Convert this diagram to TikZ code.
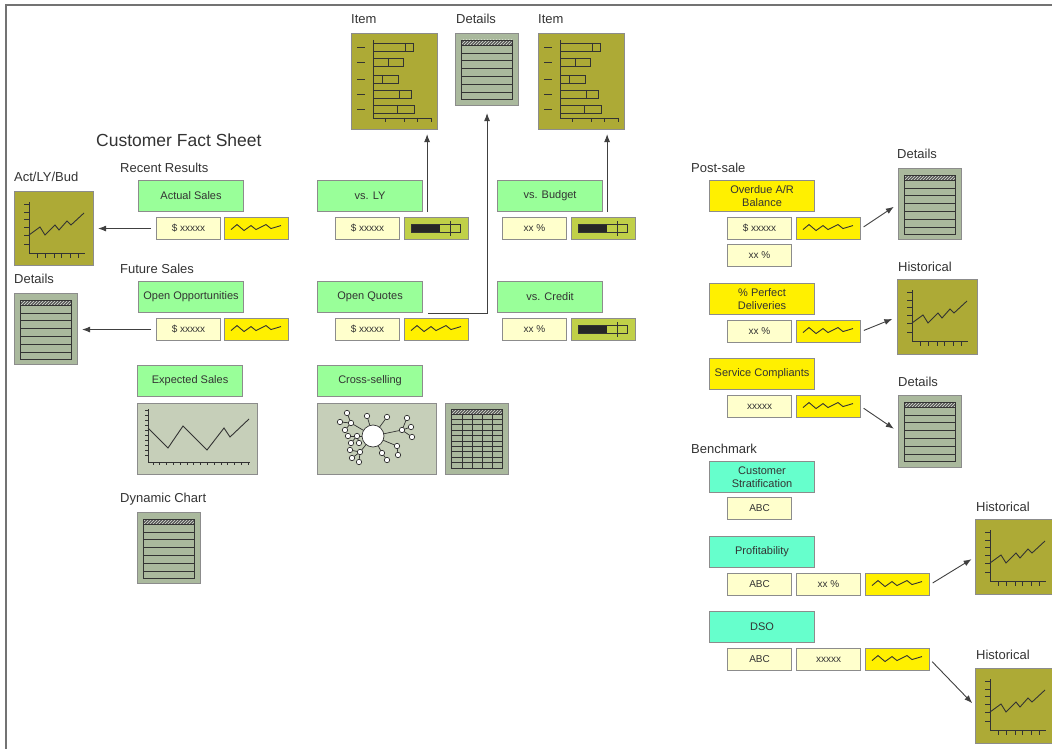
\documentclass[tikz,border=0pt]{standalone}
\usepackage{fontspec}
\setmainfont{Liberation Sans}
\usepackage{tikz}
\usetikzlibrary{arrows.meta, patterns, positioning}

\definecolor{kpigreen}{HTML}{99FF99}
\definecolor{benchteal}{HTML}{66FFCC}
\definecolor{alertyellow}{HTML}{FFF000}
\definecolor{valyellow}{HTML}{FFFFCC}
\definecolor{bulletgreen}{HTML}{C0D048}
\definecolor{olivechart}{HTML}{ADAA36}
\definecolor{detgray}{HTML}{AAB99D}
\definecolor{panelgray}{HTML}{C6CFB9}

% little pictures drawn inside the empty boxes
\newcommand{\detailspic}[1]{%
  \begin{scope}[shift={(#1.north west)}, icon]
    \fill[black!65] (6,7) rectangle (57,12);
    \fill[pattern=north east lines, pattern color=detgray!40!white] (6,7) rectangle (57,12);
    \draw (6,7) rectangle (57,66);
    \foreach \r in {12,20,27,35,43,51,59} \draw (6,\r) -- (57,\r);
  \end{scope}}
\newcommand{\itempic}[1]{%
  \begin{scope}[shift={(#1.north west)}, icon]
    \draw (22,7) -- (22,85) -- (80,85);
    \foreach \t in {34,53,66,80} \draw (\t,85) -- (\t,89);
    \foreach \e/\d/\r in {62/54/14, 52/37/29, 47/31/46, 60/48/61, 63/46/76} {
      \draw (6,\r) -- (14,\r);
      \draw (22,\r-4) rectangle (\e,\r+4);
      \draw (\d,\r-4) -- (\d,\r+4);
    }
  \end{scope}}
\newcommand{\trendpic}[1]{%
  \begin{scope}[shift={(#1.north west)}, icon]
    \draw (15,11) -- (15,62) -- (71,62);
    \foreach \t in {13,21,28,36,44,53} \draw (10,\t) -- (15,\t);
    \foreach \t in {23,31,40,47,56,64} \draw (\t,62) -- (\t,67);
    \draw (15,44) -- (26,36) -- (31,44) -- (41,34) -- (45,39) -- (53,30) -- (57,34) -- (70,22);
  \end{scope}}
\newcommand{\sparkpic}[1]{%
  \draw[icon, shift={(#1.west)}] (7,1) -- (13,-4) -- (20,2) -- (27,-3) -- (32,1) -- (42,-4) -- (47,0) -- (57,-3);}
\newcommand{\bulletpic}[1]{%
  \begin{scope}[shift={(#1.west)}, icon]
    \fill[black!85] (7,-4) rectangle (36,4);
    \draw (7,-4) rectangle (56,4);
    \draw (46,-7.5) -- (46,7.5);
  \end{scope}}

\begin{document}
\begin{tikzpicture}[x=1pt, y=-1pt,
    panel/.style={draw=black!45, line width=1.1pt, inner sep=0, anchor=north west},
    kpi/.style={panel, fill=kpigreen, minimum width=105, minimum height=31, align=center,
      text=black!80, font=\fontsize{11}{13}\selectfont},
    postkpi/.style={kpi, fill=alertyellow},
    benchkpi/.style={kpi, fill=benchteal},
    valbox/.style={panel, fill=valyellow, minimum width=64, minimum height=22,
      text=black!80, font=\fontsize{10}{12}\selectfont},
    sparkbox/.style={panel, fill=alertyellow, minimum width=64, minimum height=22},
    bulletbox/.style={panel, fill=bulletgreen, minimum width=64, minimum height=22},
    trend/.style={panel, fill=olivechart, minimum width=80, minimum height=75},
    itemchart/.style={panel, fill=olivechart, minimum width=86, minimum height=96},
    detailbox/.style={panel, fill=detgray, minimum width=63, minimum height=71},
    widebox/.style={panel, fill=panelgray, minimum width=120, minimum height=71},
    sect/.style={inner sep=0, anchor=base west, text=black!80, font=\fontsize{13}{15}\selectfont},
    icon/.style={draw=black!80, line width=0.9pt},
    flow/.style={draw=black!75, line width=0.9pt, -{Latex[length=8pt,width=6pt]}}]
  \clip (0,0) rectangle (1052,749);
  \draw[black!55, line width=1.5pt] (1052,5) -- (6,5) -- (6,749);

  % headings
  \node[sect, font=\fontsize{17.5}{20}\selectfont] (title) at (96,146.5) {Customer Fact Sheet};
  \node[sect] (recent) at (120,172) {Recent Results};
  \node[sect] (future) at (120,273) {Future Sales};
  \node[sect] (dynamic) at (120,502) {Dynamic Chart};
  \node[sect] (actlbl) at (14,181) {Act/LY/Bud};
  \node[sect] (ldetlbl) at (14,283) {Details};
  \node[sect] (item1lbl) at (351,24) {Item};
  \node[sect] (tdetlbl) at (456,24) {Details};
  \node[sect] (item2lbl) at (538,24) {Item};
  \node[sect] (postsale) at (691,172) {Post-sale};
  \node[sect] (bench) at (691,453) {Benchmark};
  \node[sect] (rdet1lbl) at (897,158) {Details};
  \node[sect] (hist1lbl) at (898,271) {Historical};
  \node[sect] (rdet2lbl) at (898,386) {Details};
  \node[sect] (hist2lbl) at (976,511) {Historical};
  \node[sect] (hist3lbl) at (976,659) {Historical};

  % left column
  \node[kpi] (actual) at (138,180) {Actual Sales};
  \node[valbox] (actval) at (156,217) {\$ xxxxx};
  \node[sparkbox] (actspark) at (224,217) {}; \sparkpic{actspark}
  \node[kpi] (openopp) at (138,281) {Open Opportunities};
  \node[valbox] (oppval) at (156,318) {\$ xxxxx};
  \node[sparkbox] (oppspark) at (224,318) {}; \sparkpic{oppspark}
  \node[kpi] (expected) at (137,365) {Expected Sales};
  \node[widebox] (expchart) at (137,403) {};
  \begin{scope}[shift={(expchart.north west)}, icon]
    \draw (11,6) -- (11,59) -- (113,59);
    \foreach \t in {7,12,...,52} \draw (8,\t) -- (11,\t);
    \foreach \t in {16,22.8,...,112} \draw (\t,59) -- (\t,62);
    \draw (11,25) -- (31,45) -- (46,23) -- (70,47) -- (87,25) -- (93,34) -- (112,16);
  \end{scope}
  \node[trend, minimum width=79, minimum height=74] (actchart) at (14,191) {}; \trendpic{actchart}
  \node[detailbox] (ldet) at (14,293) {}; \detailspic{ldet}
  \node[detailbox] (dyndet) at (137,512) {}; \detailspic{dyndet}

  % middle columns
  \node[kpi] (vsly) at (317,180) {vs. LY};
  \node[valbox] (lyval) at (335,217) {\$ xxxxx};
  \node[bulletbox] (lybullet) at (404,217) {}; \bulletpic{lybullet}
  \node[kpi] (quotes) at (317,281) {Open Quotes};
  \node[valbox] (quoteval) at (335,318) {\$ xxxxx};
  \node[sparkbox] (quotespark) at (404,318) {}; \sparkpic{quotespark}
  \node[kpi] (cross) at (317,365) {Cross-selling};
  \node[widebox, minimum width=119] (netpanel) at (317,403) {};
  \begin{scope}[shift={(netpanel.north west)}, shift={(56,33)}, icon, line width=0.7pt]
    \foreach \hx/\hy in {-6/-20, 14/-19, 29/-6, 24/10, 9/17, -22/-13, -16/0, -13/16}
      \draw (0,0) -- (\hx,\hy);
    \foreach \ax/\ay/\bx/\by in {29/-6/34/-18, 29/-6/38/-9, 29/-6/39/1, 24/10/25/19, 9/17/14/24,
        -22/-13/-26/-23, -22/-13/-33/-14, -22/-13/-28/-6, -16/0/-25/0, -16/0/-22/7, -16/0/-14/7,
        -13/16/-23/14, -13/16/-21/22, -13/16/-14/26}
      \draw (\ax,\ay) -- (\bx,\by);
    \foreach \px/\py in {-6/-20, 14/-19, 29/-6, 24/10, 9/17, -22/-13, -16/0, -13/16, 34/-18, 38/-9,
        39/1, 25/19, 14/24, -26/-23, -33/-14, -28/-6, -25/0, -22/7, -14/7, -23/14, -21/22, -14/26}
      \filldraw[fill=white] (\px,\py) circle (2.7);
    \filldraw[fill=white] (0,0) circle (11);
  \end{scope}
  \node[detailbox] (crosstab) at (445,403) {};
  \begin{scope}[shift={(crosstab.north west)}, icon]
    \fill[black!65] (6,6) rectangle (57,11);
    \fill[pattern=north east lines, pattern color=detgray!40!white] (6,6) rectangle (57,11);
    \draw (6,6) rectangle (57,65);
    \foreach \c in {17,27,37,47} \draw (\c,11) -- (\c,65);
    \foreach \r in {11,16.4,...,60} \draw (6,\r) -- (57,\r);
  \end{scope}
  \node[kpi] (vsbud) at (497,180) {vs. Budget};
  \node[valbox] (budval) at (502,217) {xx \%};
  \node[bulletbox] (budbullet) at (571,217) {}; \bulletpic{budbullet}
  \node[kpi] (vscredit) at (497,281) {vs. Credit};
  \node[valbox] (credval) at (502,318) {xx \%};
  \node[bulletbox] (credbullet) at (571,318) {}; \bulletpic{credbullet}
  \node[itemchart] (item1) at (351,33) {}; \itempic{item1}
  \node[detailbox, minimum height=72] (topdet) at (455,33) {}; \detailspic{topdet}
  \node[itemchart] (item2) at (538,33) {}; \itempic{item2}

  % right column
  \node[postkpi] (overdue) at (709,180) {Overdue A/R\\Balance};
  \node[valbox] (odval) at (727,217) {\$ xxxxx};
  \node[sparkbox] (odspark) at (796,217) {}; \sparkpic{odspark}
  \node[valbox] (odpct) at (727,244) {xx \%};
  \node[detailbox] (rdet1) at (898,168) {}; \detailspic{rdet1}
  \node[postkpi] (perfect) at (709,283) {\% Perfect\\Deliveries};
  \node[valbox] (pfval) at (727,320) {xx \%};
  \node[sparkbox] (pfspark) at (796,320) {}; \sparkpic{pfspark}
  \node[trend] (hist1) at (897,279) {}; \trendpic{hist1}
  \node[postkpi] (service) at (709,358) {Service Compliants};
  \node[valbox] (svval) at (727,395) {xxxxx};
  \node[sparkbox] (svspark) at (796,395) {}; \sparkpic{svspark}
  \node[detailbox, minimum height=72] (rdet2) at (898,395) {}; \detailspic{rdet2}
  \node[benchkpi] (strat) at (709,461) {Customer\\Stratification};
  \node[valbox] (stabc) at (727,497) {ABC};
  \node[benchkpi] (profit) at (709,536) {Profitability};
  \node[valbox] (prabc) at (727,573) {ABC};
  \node[valbox] (prpct) at (796,573) {xx \%};
  \node[sparkbox] (prspark) at (865,573) {}; \sparkpic{prspark}
  \node[trend] (hist2) at (975,519) {}; \trendpic{hist2}
  \node[benchkpi] (dso) at (709,611) {DSO};
  \node[valbox] (dsoabc) at (727,648) {ABC};
  \node[valbox] (dsoval) at (796,648) {xxxxx};
  \node[sparkbox] (dsospark) at (865,648) {}; \sparkpic{dsospark}
  \node[trend] (hist3) at (975,668) {}; \trendpic{hist3}

  % drill-down arrows
  \draw[flow, shorten <=5pt, shorten >=4pt] (actval.west) -- (actval.west -| actchart.east);
  \draw[flow, shorten <=5pt, shorten >=4pt] (oppval.west) -- (oppval.west -| ldet.east);
  \draw[flow, shorten >=4pt] ([xshift=4pt]vsly.south east) -- ([xshift=4pt]vsly.south east |- item1.south);
  \draw[flow, shorten >=4pt] ([xshift=4pt]vsbud.south east) -- ([xshift=4pt]vsbud.south east |- item2.south);
  \draw[flow, shorten >=7pt] ([xshift=5pt]quotes.south east) -| (topdet.south);
  \draw[flow, shorten <=3pt, shorten >=5pt] (odspark.east) -- (rdet1.west);
  \draw[flow, shorten <=3pt, shorten >=5pt] (pfspark.east) -- (hist1.west);
  \draw[flow, shorten <=3pt, shorten >=5pt] (svspark.east) -- (rdet2.west);
  \draw[flow, shorten <=3pt, shorten >=4pt] (prspark.east) -- (hist2.west);
  \draw[flow, shorten <=3pt, shorten >=4pt] (dsospark.east) -- (hist3.west);
\end{tikzpicture}
\end{document}
